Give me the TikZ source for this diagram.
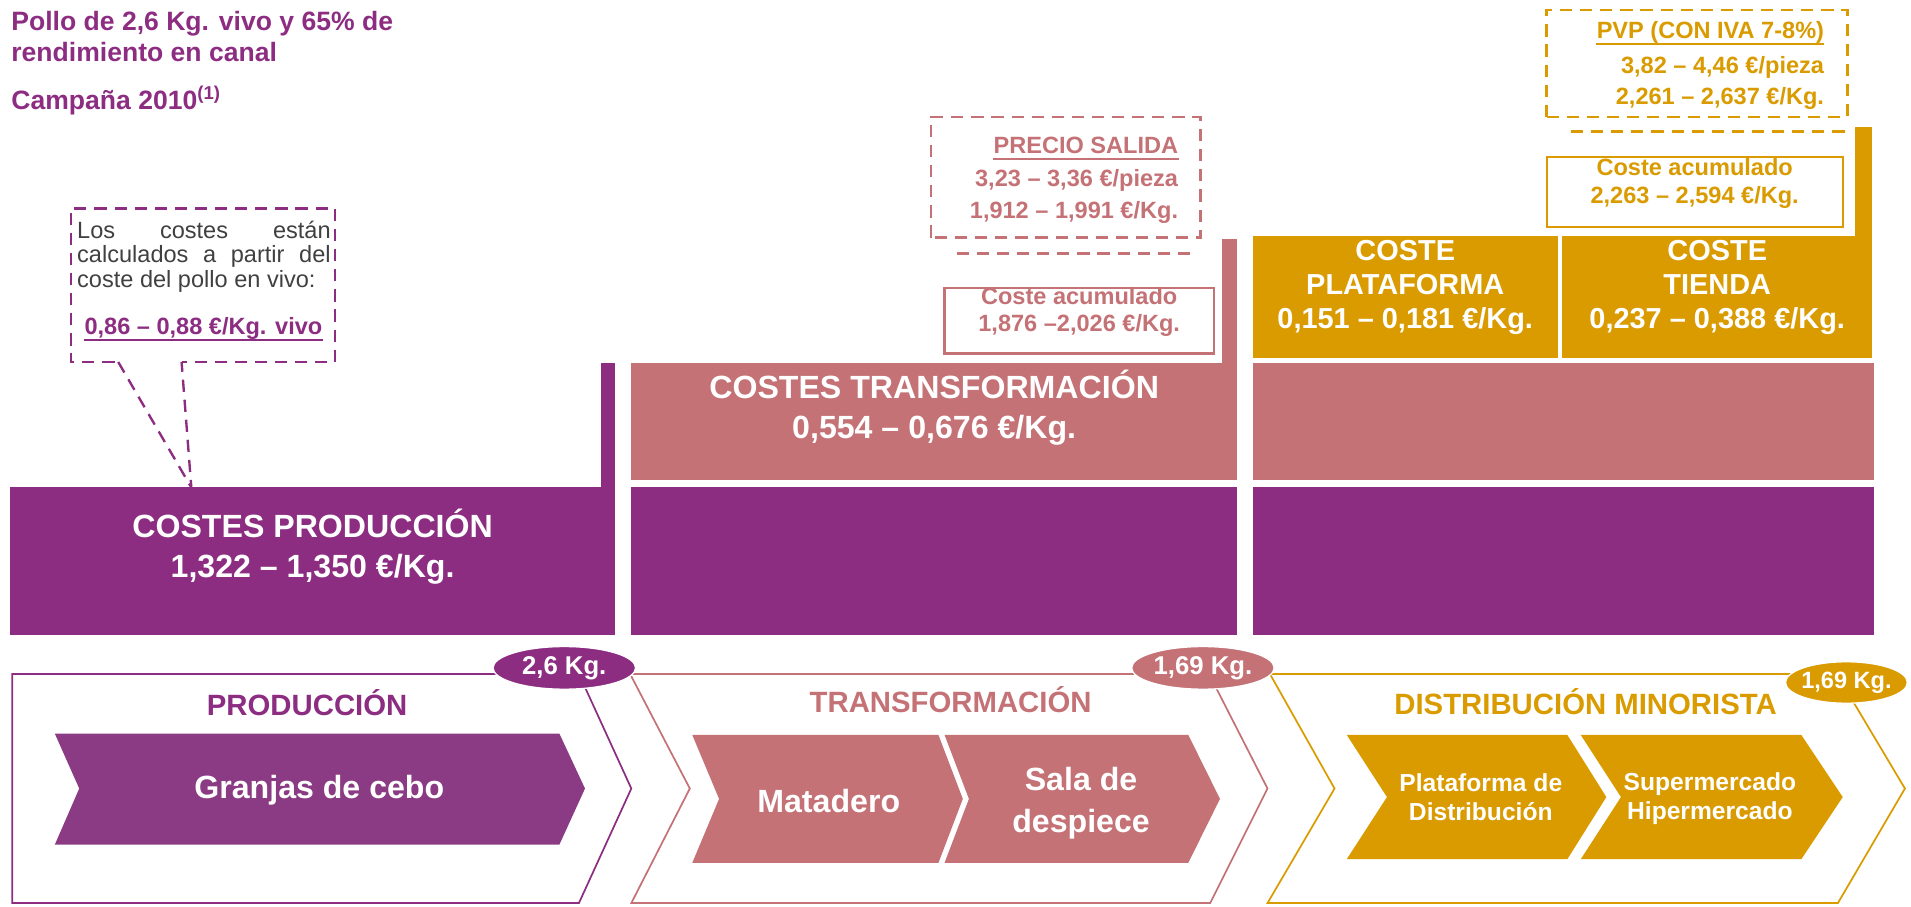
\documentclass[tikz,border=0pt]{standalone}
\usepackage{fontspec}
\setmainfont{Liberation Sans}
\usetikzlibrary{fit,shapes.geometric}
\definecolor{prodpurple}{RGB}{140,45,130}
\definecolor{granjapurple}{RGB}{139,59,132}
\definecolor{transpink}{RGB}{196,114,118}
\definecolor{distgold}{RGB}{217,155,0}
\definecolor{notegray}{RGB}{64,64,64}

\begin{document}
\begin{tikzpicture}[x=0.02cm, y=0.02cm,
	costbox/.style={inner sep=0pt, text=white, align=center, font=\bfseries\fontsize{15}{18.7}\selectfont},
	acumbox/.style={draw, line width=1pt, fill=white, inner sep=0pt, align=center, font=\bfseries\fontsize{11}{13}\selectfont},
	pricetext/.style={anchor=base east, inner sep=0pt, font=\bfseries\fontsize{11}{13}\selectfont},
	stagetitle/.style={anchor=base, inner sep=0pt, font=\bfseries\fontsize{13.7}{16}\selectfont},
	steptext/.style={inner sep=0pt, text=white, align=center, font=\bfseries\fontsize{15}{19.8}\selectfont},
	weightoval/.style={ellipse, draw=white, line width=0.6pt, inner xsep=-1pt, inner ysep=1pt, minimum width=2.34cm, minimum height=0.7cm, text=white, font=\bfseries\fontsize{12}{14}\selectfont},
	notedash/.style={dash pattern=on 0.2cm off 0.13cm, line width=1.1pt}]
	\useasboundingbox (0,0) rectangle (1568,744);

	%title
	\node[anchor=base west, inner sep=0pt, text=prodpurple, font=\bfseries\fontsize{12.4}{15}\selectfont] (title1) at (9,719) {Pollo de 2,6 Kg. vivo y 65\% de};
	\node[anchor=base west, inner sep=0pt, text=prodpurple, font=\bfseries\fontsize{12.4}{15}\selectfont] (title2) at (9,693.4) {rendimiento en canal};
	\node[anchor=base west, inner sep=0pt, text=prodpurple, font=\bfseries\fontsize{12.4}{15}\selectfont] (campaign) at (9,654.3) {Campaña 2010\textsuperscript{(1)}};

	%note on the live chicken price
	\node[anchor=base west, inner sep=0pt, text width=4.16cm, align=justify, text=notegray, font=\fontsize{11}{11.4}\selectfont] (note) at (63,548.3) {Los costes están\linebreak calculados a partir del\linebreak coste del pollo en vivo:};
	\node[anchor=base west, inner sep=0pt, text=prodpurple, font=\bfseries\fontsize{11}{13}\selectfont] (vivoprice) at (69,469.2) {0,86 – 0,88 €/Kg. vivo};
	\draw[prodpurple, line width=0.9pt] ([yshift=-2.5pt]vivoprice.base west) -- ([yshift=-2.5pt]vivoprice.base east);
	\draw[prodpurple, notedash] (94,447) -- (58,447) -- (58,573) -- (275,573) -- (275,447) -- (149,447);
	\coordinate (tailA) at (97,447);
	\coordinate (tailB) at (149,447);
	\coordinate (notetip) at (157,344);
	\draw[prodpurple, notedash] (tailA) -- (notetip) -- (tailB);

	%production costs
	\node[costbox, fill=prodpurple, fit={(8,223) (505,344)}] (prodcost) {COSTES PRODUCCIÓN\\1,322 – 1,350 €/Kg.};
	\fill[prodpurple] (493,344) rectangle (505,446);

	%transformation costs
	\node[costbox, fill=transpink, fit={(518,350) (1015,446)}] (transcost) {COSTES TRANSFORMACIÓN\\0,554 – 0,676 €/Kg.};
	\node[costbox, fill=prodpurple, fit={(518,223) (1015,344)}] (transprod) {};
	\fill[transpink] (1003,446) rectangle (1015,548);
	\node[acumbox, draw=transpink, text=transpink, fit={(775,454) (996,508)}] (transacum) {Coste acumulado\\1,876 –2,026 €/Kg.};

	%precio salida
	\draw[transpink, notedash] (764,549) rectangle (985,648);
	\draw[transpink, notedash] (785,536) -- (976,536);
	\node[pricetext, text=transpink] (salidahead) at (967,618) {PRECIO SALIDA};
	\draw[transpink, line width=0.9pt] ([yshift=-2.5pt]salidahead.base west) -- ([yshift=-2.5pt]salidahead.base east);
	\node[pricetext, text=transpink] (salidapieza) at (967,591) {3,23 – 3,36 €/pieza};
	\node[pricetext, text=transpink] (salidakg) at (967,565) {1,912 – 1,991 €/Kg.};

	%distribution costs
	\node[costbox, fill=transpink, fit={(1028,350) (1538,446)}] (disttrans) {};
	\node[costbox, fill=prodpurple, fit={(1028,223) (1538,344)}] (distprod) {};
	\node[costbox, fill=distgold, font=\bfseries\fontsize{13.5}{15.9}\selectfont, fit={(1028,450) (1278,550)}] (platcost) {COSTE\\PLATAFORMA\\0,151 – 0,181 €/Kg.};
	\node[costbox, fill=distgold, font=\bfseries\fontsize{13.5}{15.9}\selectfont, fit={(1282,450) (1536,550)}] (tiendacost) {COSTE\\TIENDA\\0,237 – 0,388 €/Kg.};
	\fill[distgold] (1522,550) rectangle (1536,640);
	\node[acumbox, draw=distgold, text=distgold, fit={(1269,558) (1512,615)}] (distacum) {Coste acumulado\\2,263 – 2,594 €/Kg.};

	%pvp
	\draw[distgold, notedash] (1269,648) rectangle (1516,736);
	\draw[distgold, notedash] (1289,636) -- (1514,636);
	\node[pricetext, text=distgold] (pvphead) at (1497,712) {PVP (CON IVA 7-8\%)};
	\draw[distgold, line width=0.9pt] ([yshift=-2.5pt]pvphead.base west) -- ([yshift=-2.5pt]pvphead.base east);
	\node[pricetext, text=distgold] (pvppieza) at (1497,684) {3,82 – 4,46 €/pieza};
	\node[pricetext, text=distgold] (pvpkg) at (1497,658) {2,261 – 2,637 €/Kg.};

	%stages
	\draw[prodpurple, line width=0.8pt] (10,191) -- (475,191) -- (518,97) -- (475,3) -- (10,3) -- cycle;
	\draw[transpink, line width=0.8pt] (517,191) -- (992,191) -- (1040,97) -- (993,3) -- (518,3) -- (566,97) -- cycle;
	\draw[distgold, line width=0.8pt] (1042,191) -- (1507,191) -- (1563,97) -- (1508,3) -- (1040,3) -- (1095,97) -- cycle;
	\node[stagetitle, text=prodpurple] (prodtitle) at (252,157) {PRODUCCIÓN};
	\node[stagetitle, text=transpink] (transtitle) at (780,159) {TRANSFORMACIÓN};
	\node[stagetitle, text=distgold] (disttitle) at (1301,158) {DISTRIBUCIÓN MINORISTA};

	\fill[granjapurple] (45,142) -- (459,142) -- (480,97) -- (459,51) -- (45,51) -- (65,97) -- cycle;
	\node[steptext] (granjas) at (262,96) {Granjas de cebo};
	\fill[transpink] (568,141) -- (770,141) -- (790,88.5) -- (770,36) -- (568,36) -- (590,88.5) -- cycle;
	\node[steptext] (matadero) at (680,87) {Matadero};
	\fill[transpink] (775,141) -- (975,141) -- (1001,88.5) -- (975,36) -- (775,36) -- (795,88.5) -- cycle;
	\node[steptext] (despiece) at (887,85) {Sala de\\despiece};
	\fill[distgold] (1105,141) -- (1286,141) -- (1318,90) -- (1286,39) -- (1105,39) -- (1138,90) -- cycle;
	\node[steptext, font=\bfseries\fontsize{11.5}{13.6}\selectfont] (plataforma) at (1215,90) {Plataforma de\\Distribución};
	\fill[distgold] (1297,141) -- (1478,141) -- (1512,90) -- (1478,39) -- (1297,39) -- (1330,90) -- cycle;
	\node[steptext, font=\bfseries\fontsize{11.5}{13.6}\selectfont] (super) at (1403,89) {Supermercado\\Hipermercado};

	%weights
	\node[weightoval, fill=prodpurple] (kgprod) at (463,196) {2,6 Kg.};
	\node[weightoval, fill=transpink] (kgtrans) at (987,196) {1,69 Kg.};
	\node[weightoval, fill=distgold, minimum width=2.0cm, minimum height=0.68cm, font=\bfseries\fontsize{11}{13}\selectfont] (kgdist) at (1515,184) {1,69 Kg.};
\end{tikzpicture}
\end{document}
